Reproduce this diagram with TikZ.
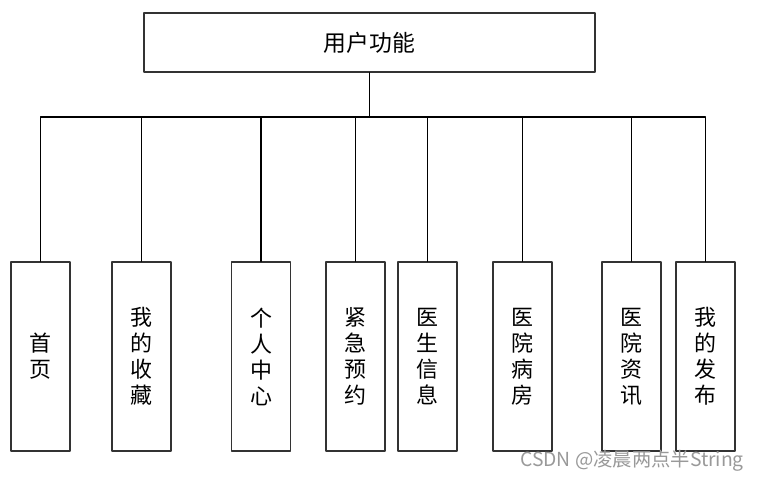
\documentclass[tikz,border=0pt]{standalone}
\usepackage{fontspec}
\newfontfamily\cjk{Noto Sans CJK SC}
\usepackage{tikz}
\tikzset{>=latex}
\usetikzlibrary{calc}
\tikzset{
  topbox/.style={draw=black!80,line width=0.7pt,minimum width=9.02cm,minimum height=1.18cm,font=\cjk\fontsize{13}{15}\selectfont},
  itembox/.style={draw=black!80,line width=0.7pt,minimum width=1.18cm,minimum height=3.78cm,align=center,font=\cjk\fontsize{12.5}{14.8}\selectfont},
  link/.style={black,line width=0.6pt}
}

\begin{document}
\begin{tikzpicture}[line cap=round,line join=round,x=0.02cm,y=-0.02cm]
			\useasboundingbox (0,0) rectangle (758,481);
			\node[topbox] (top) at (369.5,42.5) {用户功能};
			\coordinate (bus) at (369.5,117);
			\node[itembox] (b1) at (40.5,356.5) {首\\页};
			\node[itembox] (b2) at (141.5,356.5) {我\\的\\收\\藏};
			\node[itembox] (b3) at (261,356.5) {个\\人\\中\\心};
			\node[itembox] (b4) at (355.5,356.5) {紧\\急\\预\\约};
			\node[itembox] (b5) at (427.5,356.5) {医\\生\\信\\息};
			\node[itembox] (b6) at (522.5,356.5) {医\\院\\病\\房};
			\node[itembox] (b7) at (631.5,356.5) {医\\院\\资\\讯};
			\node[itembox] (b8) at (705.5,356.5) {我\\的\\发\\布};
			\draw[link] (top.south) -- (bus);
			\foreach \i in {1,...,8}
				\draw[link] (bus) -| (b\i.north);
			\node[text=black!40,font=\cjk\fontsize{11}{13}\selectfont] (mark) at (632,461) {CSDN @凌晨两点半String};
\end{tikzpicture}
\end{document}
